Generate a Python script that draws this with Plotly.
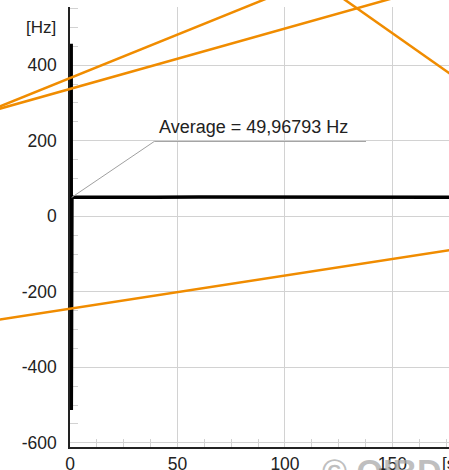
import plotly.graph_objects as go

W, H = 449, 470

# Frequency record: time [s] and measured frequency [Hz]
time_s = [0.55, 0.6, 0.62, 0.65, 0.68, 0.7, 0.72, 0.75, 0.78, 0.8, 0.85, 0.9,
          1.5, 5.0, 20.0, 40.0, 60.0, 80.0, 100.0, 120.0, 140.0, 160.0, 176.3]
freq_hz = [457, -513, 300, -240, 180, 20, 120, 40, 95, 60, 75, 51,
           50.6, 50.4, 50.8, 50.5, 50.7, 50.4, 50.6, 50.5, 50.7, 50.5, 50.6]

AVERAGE_HZ = 49.96793

# Straight trend segments (orange), value at each end time
trend_t = [-40, 185]
trend_a = [274.0, 791.5]
trend_b = [273.0, 633.0]
trend_c = [1244.5, 344.5]
trend_d = [-280.2, -82.2]

x_ticks = [0, 50, 100, 150]
y_ticks = [-600, -400, -200, 0, 200, 400]

# Axis ranges and plot-area placement in pixels
X_RANGE = [0, 176.3]
Y_RANGE = [-611, 554]
PLOT_LEFT, PLOT_TOP, PLOT_BOTTOM = 70, 7, 23

dom_x = [PLOT_LEFT / W, 1.0]
dom_y = [PLOT_BOTTOM / H, 1 - PLOT_TOP / H]

# Full-figure axes sharing the same data scale, so the trend
# segments continue past the plot frame.
ppu_x = (W * (dom_x[1] - dom_x[0])) / (X_RANGE[1] - X_RANGE[0])
ppu_y = (H * (dom_y[1] - dom_y[0])) / (Y_RANGE[1] - Y_RANGE[0])
ext_x = [X_RANGE[0] - W * dom_x[0] / ppu_x, X_RANGE[1] + W * (1 - dom_x[1]) / ppu_x]
ext_y = [Y_RANGE[0] - H * dom_y[0] / ppu_y, Y_RANGE[1] + H * (1 - dom_y[1]) / ppu_y]

FONT = "Liberation Sans, Arial, sans-serif"
ORANGE = "#F08C00"
GRID = "#d2d2d2"

fig = go.Figure()

fig.add_trace(go.Scatter(
    x=time_s, y=freq_hz, mode="lines",
    line=dict(color="#000000", width=3.5), hoverinfo="skip",
))

# callout leader for the average label
label_x, label_y, label_end = 39.2, 198.0, 137.7
fig.add_trace(go.Scatter(
    x=[0.8, label_x, label_end], y=[AVERAGE_HZ, label_y, label_y],
    mode="lines", line=dict(color="#a0a0a0", width=1), hoverinfo="skip",
))

for vals in (trend_a, trend_b, trend_c, trend_d):
    fig.add_trace(go.Scatter(
        x=trend_t, y=vals, mode="lines", xaxis="x2", yaxis="y2",
        line=dict(color=ORANGE, width=2.5), hoverinfo="skip",
    ))

avg_text = "Average = " + f"{AVERAGE_HZ:.5f}".replace(".", ",") + " Hz"

fig.update_layout(
    width=W, height=H,
    margin=dict(l=0, r=0, t=0, b=0),
    paper_bgcolor="white", plot_bgcolor="rgba(0,0,0,0)",
    showlegend=False,
    font=dict(family=FONT, size=17, color="#222222"),
    xaxis=dict(
        domain=dom_x, range=X_RANGE, tickvals=x_ticks,
        ticktext=[str(v) for v in x_ticks],
        showgrid=True, gridcolor=GRID, gridwidth=1, zeroline=False,
        showline=True, linecolor="#222222", linewidth=1.5,
        ticks="inside", ticklen=8, tickcolor=GRID, layer="below traces",
        minor=dict(dtick=12.5, ticks="inside", ticklen=8, tickcolor=GRID, showgrid=False),
        tickfont=dict(size=17.5), ticklabelstandoff=0, automargin=False,
    ),
    yaxis=dict(
        domain=dom_y, range=Y_RANGE, tickvals=y_ticks,
        ticktext=[str(v) for v in y_ticks],
        showgrid=True, gridcolor=GRID, gridwidth=1, zeroline=False,
        showline=True, linecolor="#222222", linewidth=1.5,
        ticks="inside", ticklen=8, tickcolor=GRID, layer="below traces",
        minor=dict(dtick=50, ticks="inside", ticklen=8, tickcolor=GRID, showgrid=False),
        tickfont=dict(size=17.5), ticklabelstandoff=8, automargin=False,
    ),
    xaxis2=dict(domain=[0, 1], range=ext_x, anchor="y2", visible=False, fixedrange=True),
    yaxis2=dict(domain=[0, 1], range=ext_y, anchor="x2", visible=False, fixedrange=True),
    annotations=[
        dict(text=avg_text, x=40.5, y=236.6, xref="x", yref="y",
             xanchor="left", yanchor="middle", showarrow=False,
             font=dict(size=18, color="#222222")),
        dict(text="[Hz]", x=58 / W, y=500, xref="paper", yref="y",
             xanchor="right", yanchor="middle", showarrow=False,
             font=dict(size=17, color="#222222")),
        dict(text="[s]", x=440 / W, y=(H - 463) / H, xref="paper", yref="paper",
             xanchor="left", yanchor="middle", showarrow=False,
             font=dict(size=17, color="#222222")),
        dict(text="<b>© OIBD</b>", x=320 / W, y=(H - 450) / H, xref="paper", yref="paper",
             xanchor="left", yanchor="top", showarrow=False,
             font=dict(size=34, color="rgba(170,170,170,0.75)")),
    ],
)

fig.write_html("out.html")
